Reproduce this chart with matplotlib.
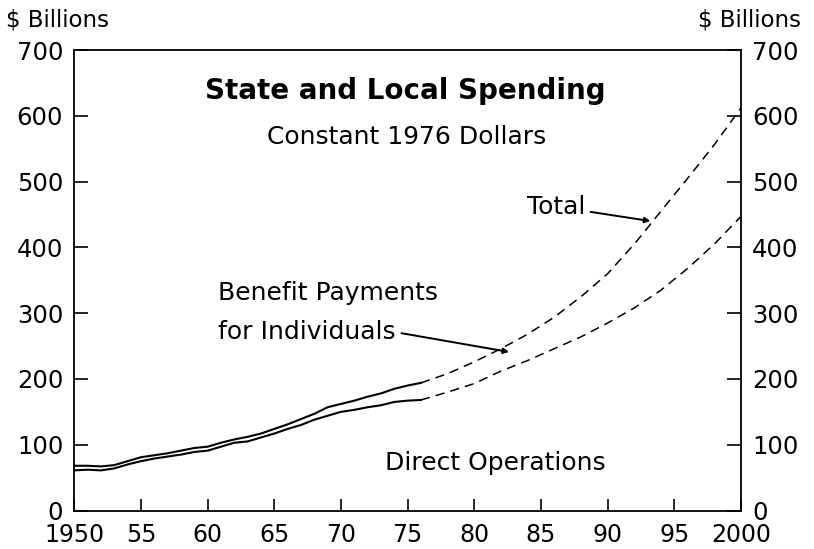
import matplotlib
matplotlib.use("Agg")
import matplotlib.pyplot as plt
import numpy as np

# ---- data ----
hist_years = list(range(1950, 1977))
total_hist = [68, 68, 67, 69, 75, 81, 84, 87, 91, 95, 97, 103, 108, 112, 117,
              124, 131, 139, 147, 157, 162, 167, 173, 178, 185, 190, 194]
direct_hist = [61, 62, 61, 64, 70, 75, 79, 82, 85, 89, 91, 97, 103, 105, 111,
               117, 124, 130, 138, 144, 150, 153, 157, 160, 165, 167, 168]

proj_years = [1976, 1978, 1980, 1982, 1984, 1986, 1988, 1990, 1992, 1994, 1996, 1998, 2000]
total_proj = [194, 208, 226, 246, 268, 294, 325, 360, 405, 455, 505, 556, 612]
direct_proj = [168, 180, 193, 212, 228, 246, 264, 285, 308, 335, 368, 405, 447]

x_ticks = [1950, 1955, 1960, 1965, 1970, 1975, 1980, 1985, 1990, 1995, 2000]
x_tick_labels = ["1950", "55", "60", "65", "70", "75", "80", "85", "90", "95", "2000"]
y_ticks = [0, 100, 200, 300, 400, 500, 600, 700]

plt.rcParams['font.family'] = ['DejaVu Sans']

fig = plt.figure(figsize=(8.14, 5.49), dpi=100)
ax = fig.add_axes([74.3 / 814, 1 - 510.5 / 549, (741 - 74.3) / 814, (510.5 - 50) / 549])

lw = 1.5
ax.plot(hist_years, total_hist, color='black', lw=lw, solid_joinstyle='round')
ax.plot(hist_years, direct_hist, color='black', lw=lw, solid_joinstyle='round')
ax.plot(proj_years, total_proj, color='black', lw=1.1, dashes=(6, 4))
ax.plot(proj_years, direct_proj, color='black', lw=1.1, dashes=(6, 4))

ax.set_xlim(1950, 2000)
ax.set_ylim(0, 700)
ax.set_xticks(x_ticks)
ax.set_xticklabels(x_tick_labels)
ax.set_yticks(y_ticks)

for s in ax.spines.values():
    s.set_linewidth(1.3)

ax.tick_params(axis='x', direction='in', length=9, width=1.2, labelsize=17, pad=9)
ax.tick_params(axis='y', direction='in', length=10, width=1.2, labelsize=17.5, pad=8,
               left=True, right=True, labelleft=True, labelright=True)

# axis unit labels
fig.text(6 / 814, 1 - 20 / 549, "$ Billions", fontsize=16.5, ha='left', va='center')
fig.text(801 / 814, 1 - 20 / 549, "$ Billions", fontsize=16.5, ha='right', va='center')

# titles
ax.text(1974.8, 637, "State and Local Spending", fontsize=20, fontweight='bold',
        ha='center', va='center')
ax.text(1974.9, 567, "Constant 1976 Dollars", fontsize=18, ha='center', va='center')

# annotations
ax.annotate("Total", xy=(1993.2, 440), xytext=(1988.3, 462), fontsize=18,
            ha='right', va='center',
            arrowprops=dict(arrowstyle='-|>', color='black', lw=1.4,
                            mutation_scale=8, shrinkA=2, shrinkB=0))
ax.text(1960.8, 331, "Benefit Payments", fontsize=18, ha='left', va='center')
ax.annotate("for Individuals", xy=(1982.6, 241), xytext=(1960.8, 271), fontsize=18,
            ha='left', va='center',
            arrowprops=dict(arrowstyle='-|>', color='black', lw=1.4,
                            mutation_scale=8, shrinkA=2, shrinkB=0,
                            relpos=(1.0, 0.5)))
ax.text(1981.6, 72, "Direct Operations", fontsize=18, ha='center', va='center')

fig.savefig("out.png", dpi=100, facecolor='white')
